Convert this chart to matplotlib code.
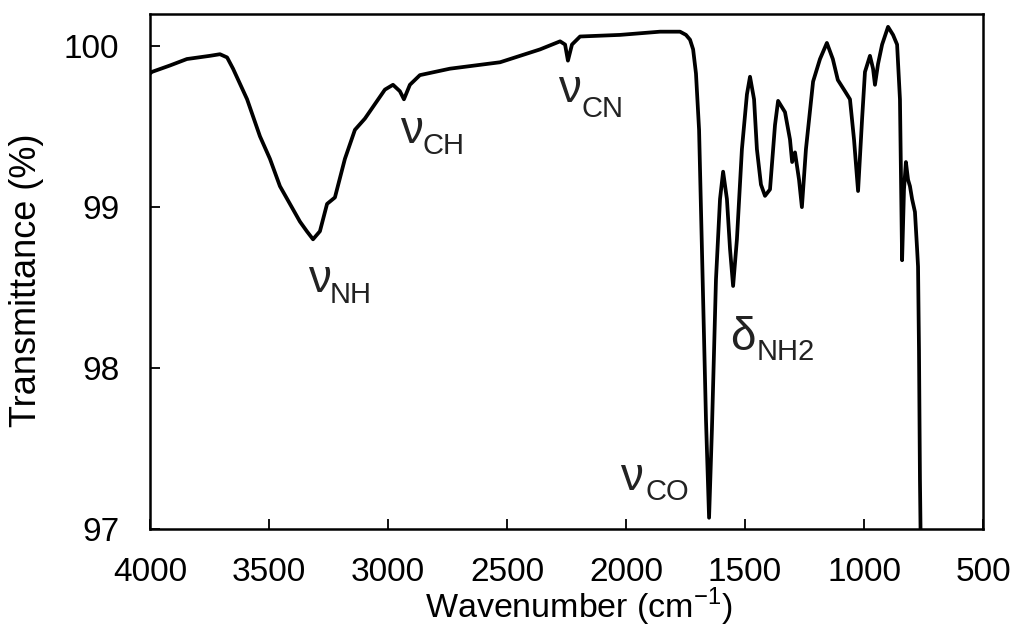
import matplotlib
matplotlib.use("Agg")
import matplotlib.pyplot as plt

plt.rcParams['font.family'] = ['Liberation Sans', 'DejaVu Sans']

# IR spectrum (wavenumber in cm-1, transmittance in %)
wavenumber = [4000, 3992, 3916, 3845, 3748, 3706, 3676, 3651, 3592, 3538,
              3496, 3454, 3412, 3370, 3341, 3315, 3286, 3256, 3223, 3181,
              3139, 3097, 3055, 3013, 2979, 2950, 2933, 2908, 2866, 2740,
              2529, 2361, 2277, 2256, 2244, 2227, 2193, 2025, 1857, 1773,
              1748, 1731, 1718, 1706, 1693, 1681, 1664, 1651, 1639, 1622,
              1605, 1592, 1576, 1563, 1550, 1534, 1513, 1492, 1479, 1462,
              1450, 1433, 1416, 1395, 1374, 1361, 1332, 1311, 1302, 1290,
              1273, 1261, 1244, 1214, 1185, 1156, 1131, 1110, 1080, 1059,
              1042, 1025, 1008, 996, 975, 962, 954, 941, 924, 899,
              878, 861, 849, 840, 832, 824, 815, 807, 798, 786,
              777, 773, 769, 765, 761]
transmittance = [99.83, 99.84, 99.88, 99.92, 99.94, 99.95, 99.93, 99.86, 99.67, 99.44,
                 99.30, 99.13, 99.02, 98.91, 98.85, 98.80, 98.85, 99.02, 99.06, 99.30,
                 99.48, 99.55, 99.64, 99.73, 99.76, 99.72, 99.67, 99.76, 99.82, 99.86,
                 99.90, 99.98, 100.03, 100.01, 99.91, 100.01, 100.06, 100.07, 100.09, 100.09,
                 100.07, 100.04, 99.98, 99.83, 99.48, 98.74, 97.68, 97.07, 97.62, 98.55,
                 99.05, 99.22, 99.05, 98.74, 98.51, 98.80, 99.36, 99.70, 99.81, 99.67,
                 99.36, 99.14, 99.07, 99.11, 99.51, 99.66, 99.59, 99.42, 99.28, 99.34,
                 99.17, 99.00, 99.36, 99.78, 99.92, 100.02, 99.92, 99.79, 99.72, 99.67,
                 99.42, 99.10, 99.55, 99.84, 99.94, 99.86, 99.76, 99.89, 100.01, 100.12,
                 100.07, 100.01, 99.67, 98.67, 99.11, 99.28, 99.17, 99.13, 99.05, 98.97,
                 98.74, 98.63, 98.11, 97.31, 96.81]

xticks = [4000, 3500, 3000, 2500, 2000, 1500, 1000, 500]
yticks = [97, 98, 99, 100]

# band labels: (symbol, subscript, symbol pos, subscript pos)
bands = [
    ("ν", "NH", (3336, 98.474), (3244, 98.406)),
    ("ν", "CH", (2950, 99.40), (2857, 99.33)),
    ("ν", "CN", (2286, 99.65), (2185, 99.56)),
    ("ν", "CO", (2025, 97.243), (1920, 97.18)),
    ("δ", "NH2", (1563, 98.115), (1450, 98.05)),
]

fig = plt.figure(figsize=(10.21, 6.35), dpi=100)
ax = fig.add_axes([0.1469, 0.1669, 0.8159, 0.8111])

ax.plot(wavenumber, transmittance, color='black', lw=2.7, solid_joinstyle='round')

ax.set_xlim(4000, 500)
ax.set_ylim(97, 100.2)
ax.set_xticks(xticks)
ax.set_yticks(yticks)
ax.tick_params(direction='in', length=7, width=1.3, labelsize=24, colors='black')
ax.tick_params(axis='x', pad=20)
ax.tick_params(axis='y', pad=22)
for sp in ax.spines.values():
    sp.set_linewidth(1.8)

ax.set_xlabel("Wavenumber (cm$^{\\mathregular{-1}}$)", fontsize=24.5, va='baseline')
ax.set_ylabel("Transmittance (%)", fontsize=26)
ax.xaxis.set_label_coords(0.515, -0.172)
ax.yaxis.set_label_coords(-0.127, 0.4835)

for sym, sub, p1, p2 in bands:
    ax.text(p1[0], p1[1], sym, fontsize=33, va='baseline', ha='left', color='#222222')
    ax.text(p2[0], p2[1], sub, fontsize=21, va='baseline', ha='left', color='#222222')

fig.savefig("out.png", dpi=100)
